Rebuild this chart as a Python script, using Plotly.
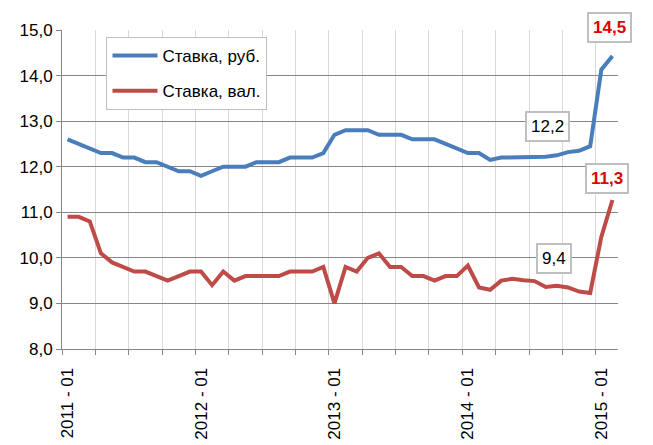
import plotly.graph_objects as go

years = [2011, 2012, 2013, 2014, 2015]
months = [f"{y} - {m:02d}" for y in years for m in range(1, 13)][:50]

rub = [12.6, 12.5, 12.4, 12.3, 12.3, 12.2, 12.2, 12.1, 12.1, 12.0,
       11.9, 11.9, 11.8, 11.9, 12.0, 12.0, 12.0, 12.1, 12.1, 12.1,
       12.2, 12.2, 12.2, 12.3, 12.7, 12.8, 12.8, 12.8, 12.7, 12.7,
       12.7, 12.6, 12.6, 12.6, 12.5, 12.4, 12.3, 12.3, 12.15, 12.2,
       12.2, 12.2, 12.22, 12.22, 12.25, 12.32, 12.35, 12.45, 14.13, 14.43]

val = [10.9, 10.9, 10.8, 10.1, 9.9, 9.8, 9.7, 9.7, 9.6, 9.5,
       9.6, 9.7, 9.7, 9.4, 9.7, 9.5, 9.6, 9.6, 9.6, 9.6,
       9.7, 9.7, 9.7, 9.8, 9.0, 9.8, 9.7, 10.0, 10.1, 9.8,
       9.8, 9.6, 9.6, 9.5, 9.6, 9.6, 9.83, 9.35, 9.3, 9.5,
       9.54, 9.51, 9.49, 9.36, 9.39, 9.35, 9.26, 9.23, 10.46, 11.27]

series_names = ["Ставка, руб.", "Ставка, вал."]
colors = ["#4A7EBB", "#BE4B48"]

label_idx = [i for i, m in enumerate(months) if m.endswith("- 01")]
label_text = [months[i] for i in label_idx]

# value call-outs: (text, x index, y value, y pixel shift, colour, bold)
callouts = [
    ("14,5", 48.7, 15.0, 3, "#E00000", True),
    ("11,3", 48.5, 11.75, 0, "#E00000", True),
    ("12,2", 43.2, 12.88, 0, "#000000", False),
    ("9,4", 43.7, 9.99, 0, "#000000", False),
]

FONT = "Liberation Sans"
x = list(range(len(months)))

fig = go.Figure()
for i, (name, ys) in enumerate(zip(series_names, [rub, val])):
    fig.add_trace(go.Scatter(x=x, y=ys, mode="lines", name=name,
                             legendgroup=f"g{i}",
                             line=dict(color=colors[i], width=4)))

for text, ax_, ay_, ysh, col, bold in callouts:
    fig.add_annotation(x=ax_, y=ay_, xref="x", yref="y", yshift=ysh,
                       showarrow=False,
                       text=f"<b>{text}</b>" if bold else text,
                       font=dict(family=FONT, size=17, color=col),
                       bgcolor="white", bordercolor="#BFBFBF", borderwidth=2,
                       borderpad=4)

fig.update_layout(
    width=653, height=445,
    margin=dict(l=62, r=35, t=30, b=96, autoexpand=False),
    paper_bgcolor="white", plot_bgcolor="white",
    separators=", ",
    font=dict(family=FONT, size=17, color="#000000"),
    showlegend=True,
    legend=dict(x=0.08, y=0.978, xanchor="left", yanchor="top",
                bgcolor="white", bordercolor="#BFBFBF", borderwidth=1,
                font=dict(family=FONT, size=17),
                tracegroupgap=10, itemwidth=45, traceorder="grouped"),
    xaxis=dict(range=[-0.5, len(months) - 0.5], tickmode="array",
               tickvals=label_idx, ticktext=label_text, tickangle=-90,
               ticks="outside", ticklen=11, tickcolor="rgba(0,0,0,0)",
               showgrid=False, zeroline=False, automargin=False,
               showline=True, linecolor="#868686", linewidth=1,
               tickfont=dict(family=FONT, size=17),
               minor=dict(tickmode="linear", tick0=-0.5, dtick=3,
                          ticks="outside", ticklen=5, tickcolor="#868686",
                          showgrid=True, gridcolor="#D9D9D9", gridwidth=1)),
    yaxis=dict(range=[8, 15], dtick=1, tick0=8, tickformat=".1f",
               ticks="outside", ticklen=5, tickcolor="#868686",
               showline=True, linecolor="#868686", linewidth=1,
               showgrid=True, gridcolor="#868686", gridwidth=1,
               zeroline=False, automargin=False,
               tickfont=dict(family=FONT, size=17)),
)

fig.write_html("out.html")
